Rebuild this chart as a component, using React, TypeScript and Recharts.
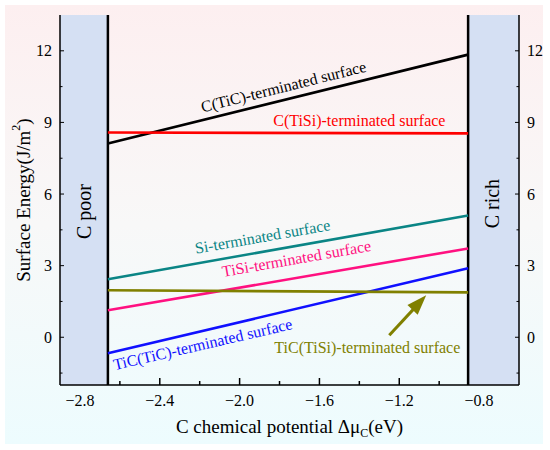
import React from 'react';
import {
  ComposedChart,
  Line,
  XAxis,
  YAxis,
  ReferenceArea,
  ReferenceLine,
  ReferenceDot,
} from 'recharts';

// ---- data ----
const muC = [-2.66, -0.855];
const cTiC = [8.12, 11.84];
const cTiSi = [8.58, 8.54];
const siTerm = [2.43, 5.1];
const tiSiTerm = [1.13, 3.72];
const tiCTiC = [-0.67, 2.89];
const tiCTiSi = [1.97, 1.88];

const xMajor = [-2.8, -2.4, -2.0, -1.6, -1.2, -0.8];
const xMinor = [-2.6, -2.2, -1.8, -1.4, -1.0];
const yMajor = [0, 3, 6, 9, 12];
const yMinor = [-1.5, 1.5, 4.5, 7.5, 10.5];
const xDomain: [number, number] = [-2.9, -0.6];
const yDomain: [number, number] = [-2, 13.5];
const poorBand = [-2.9, -2.66];
const richBand = [-0.855, -0.6];

const FONT = '"Liberation Serif", "Times New Roman", serif';

const toPts = (vals: number[]) => muC.map((x, i) => ({ x, y: vals[i] }));

const series = [
  { key: 'cTiC', vals: cTiC, color: '#000000', label: 'C(TiC)-terminated surface', lx: -1.78, ly: 10.5, angle: -14 },
  { key: 'cTiSi', vals: cTiSi, color: '#ff0000', label: 'C(TiSi)-terminated surface', lx: -1.4, ly: 9.08, angle: 0 },
  { key: 'si', vals: siTerm, color: '#0a8585', label: 'Si-terminated surface', lx: -1.885, ly: 4.22, angle: -10 },
  { key: 'tiSi', vals: tiSiTerm, color: '#ff1080', label: 'TiSi-terminated surface', lx: -1.715, ly: 3.3, angle: -10 },
  { key: 'tiCTiC', vals: tiCTiC, color: '#1010ff', label: 'TiC(TiC)-terminated surface', lx: -2.185, ly: -0.29, angle: -13 },
  { key: 'tiCTiSi', vals: tiCTiSi, color: '#808000', label: 'TiC(TiSi)-terminated surface', lx: -1.36, ly: -0.42, angle: 0 },
];

const arrowTail = { x: -1.25, y: 0.08 };
const arrowHead = { x: -1.065, y: 1.76 };

const isMajor = (arr: number[], v: number) => arr.some((m) => Math.abs(m - v) < 1e-6);
const fmt = (v: number) => (v < 0 ? '\u2212' : '') + Math.abs(v).toFixed(1);

const XTick = (props: any) => {
  const { x, y, payload } = props;
  const v = payload.value;
  const major = isMajor(xMajor, v);
  const inBand = v < poorBand[1] || v > richBand[0];
  return (
    <g>
      {!inBand && (
        <line x1={x} x2={x} y1={y} y2={y - (major ? 7 : 4)} stroke="#000" strokeWidth={1.5} />
      )}
      {major && (
        <text x={x} y={y + 10} dy="0.71em" textAnchor="middle" fontSize={16} fontFamily={FONT} fill="#000">
          {fmt(v)}
        </text>
      )}
    </g>
  );
};

const YTick = (side: 'left' | 'right') => (props: any) => {
  const { x, y, payload } = props;
  const v = payload.value;
  const major = isMajor(yMajor, v);
  const dir = side === 'left' ? 1 : -1;
  return (
    <g>
      <line x1={x} x2={x + dir * (major ? 4 : 2.5)} y1={y} y2={y} stroke="#000" strokeWidth={1} />
      {major && (
        <text
          x={side === 'left' ? x - 8 : x + 8}
          y={y}
          dy="0.355em"
          textAnchor={side === 'left' ? 'end' : 'start'}
          fontSize={16}
          fontFamily={FONT}
          fill="#000"
        >
          {String(v)}
        </text>
      )}
    </g>
  );
};

const textShape = (label: string, color: string, angle: number, size = 16) => (p: any) => (
  <text
    x={p.cx}
    y={p.cy}
    transform={angle ? `rotate(${angle} ${p.cx} ${p.cy})` : undefined}
    textAnchor="middle"
    dominantBaseline="central"
    fill={color}
    fontSize={size}
    fontFamily={FONT}
  >
    {label}
  </text>
);

const arrowHeadShape = (p: any) => {
  const a = -47;
  return (
    <polygon
      points="0,0 -20,-7 -20,7"
      transform={`translate(${p.cx} ${p.cy}) rotate(${a})`}
      fill="#808000"
    />
  );
};

export default function App() {
  return (
    <div style={{ position: 'absolute', left: 0, top: 0, width: 550, height: 450, background: '#ffffff' }}>
      <div
        style={{
          position: 'absolute',
          left: 5,
          top: 5,
          width: 538,
          height: 439,
          background: 'linear-gradient(to bottom, #fdeff0 0%, #f8f8f8 50%, #edfcfe 100%)',
        }}
      />
      <div style={{ position: 'absolute', left: 0, top: 0 }}>
        <ComposedChart width={550} height={450} margin={{ top: 15, right: 0, bottom: 0, left: 0 }}>
          <XAxis
            dataKey="x"
            type="number"
            domain={xDomain}
            allowDataOverflow
            ticks={[...xMajor, ...xMinor].sort((a, b) => a - b)}
            interval={0}
            height={65}
            tickSize={0}
            tickMargin={0}
            tickLine={false}
            tick={<XTick />}
            axisLine={{ stroke: '#000', strokeWidth: 1.5 }}
          />
          <XAxis
            xAxisId="top"
            orientation="top"
            type="number"
            domain={xDomain}
            allowDataOverflow
            height={0}
            tick={false}
            tickLine={false}
            axisLine={{ stroke: '#000', strokeWidth: 1.5 }}
          />
          <YAxis
            yAxisId={0}
            type="number"
            domain={yDomain}
            allowDataOverflow
            ticks={[...yMajor, ...yMinor].sort((a, b) => a - b)}
            interval={0}
            width={60}
            tickSize={0}
            tickMargin={0}
            tickLine={false}
            tick={YTick('left')}
            axisLine={{ stroke: '#000', strokeWidth: 1.5 }}
            label={{
              content: (lp: any) => {
                const vb = lp.viewBox || {};
                const cx = 23;
                const cy = (vb.y ?? 15) + (vb.height ?? 370) / 2;
                return (
                  <text
                    x={cx}
                    y={cy}
                    transform={`rotate(-90 ${cx} ${cy})`}
                    textAnchor="middle"
                    dominantBaseline="central"
                    fontSize={19}
                    fontFamily={FONT}
                    fill="#000"
                  >
                    Surface Energy(J/m
                    <tspan baselineShift="super" fontSize={12}>2</tspan>
                    <tspan>)</tspan>
                  </text>
                );
              },
            }}
          />
          <YAxis
            yAxisId="right"
            orientation="right"
            type="number"
            domain={yDomain}
            allowDataOverflow
            ticks={[...yMajor, ...yMinor].sort((a, b) => a - b)}
            interval={0}
            width={31}
            tickSize={0}
            tickMargin={0}
            tickLine={false}
            tick={YTick('right')}
            axisLine={{ stroke: '#000', strokeWidth: 1.5 }}
          />

          <ReferenceArea x1={poorBand[0]} x2={poorBand[1]} y1={yDomain[0]} y2={yDomain[1]} fill="#d5e0f3" fillOpacity={1} stroke="none" />
          <ReferenceArea x1={richBand[0]} x2={richBand[1]} y1={yDomain[0]} y2={yDomain[1]} fill="#d5e0f3" fillOpacity={1} stroke="none" />
          <ReferenceLine x={poorBand[1]} stroke="#000" strokeWidth={2.5} />
          <ReferenceLine x={richBand[0]} stroke="#000" strokeWidth={2.5} />

          {series.map((s) => (
            <Line
              key={s.key}
              data={toPts(s.vals)}
              dataKey="y"
              type="linear"
              stroke={s.color}
              strokeWidth={2.6}
              dot={false}
              activeDot={false}
              isAnimationActive={false}
            />
          ))}

          {series.map((s) => (
            <ReferenceDot
              key={'lab-' + s.key}
              x={s.lx}
              y={s.ly}
              r={0}
              shape={textShape(s.label, s.color, s.angle)}
            />
          ))}

          <ReferenceLine
            segment={[arrowTail, { x: arrowHead.x - 0.06, y: arrowHead.y - 0.55 }]}
            stroke="#808000"
            strokeWidth={3}
          />
          <ReferenceDot x={arrowHead.x} y={arrowHead.y} r={0} shape={arrowHeadShape} />

          <ReferenceDot x={-2.78} y={5.27} r={0} shape={textShape('C poor', '#000', -90, 20)} />
          <ReferenceDot x={-0.735} y={5.6} r={0} shape={textShape('C rich', '#000', -90, 20)} />
        </ComposedChart>
      </div>
      <div
        style={{
          position: 'absolute',
          left: 60,
          width: 459,
          top: 415,
          textAlign: 'center',
          fontFamily: FONT,
          fontSize: 19,
          lineHeight: '24px',
          color: '#000',
          whiteSpace: 'nowrap',
        }}
      >
        C chemical potential Δμ<sub style={{ fontSize: 12, verticalAlign: '-4px', lineHeight: 0 }}>C</sub>(eV)
      </div>
    </div>
  );
}
